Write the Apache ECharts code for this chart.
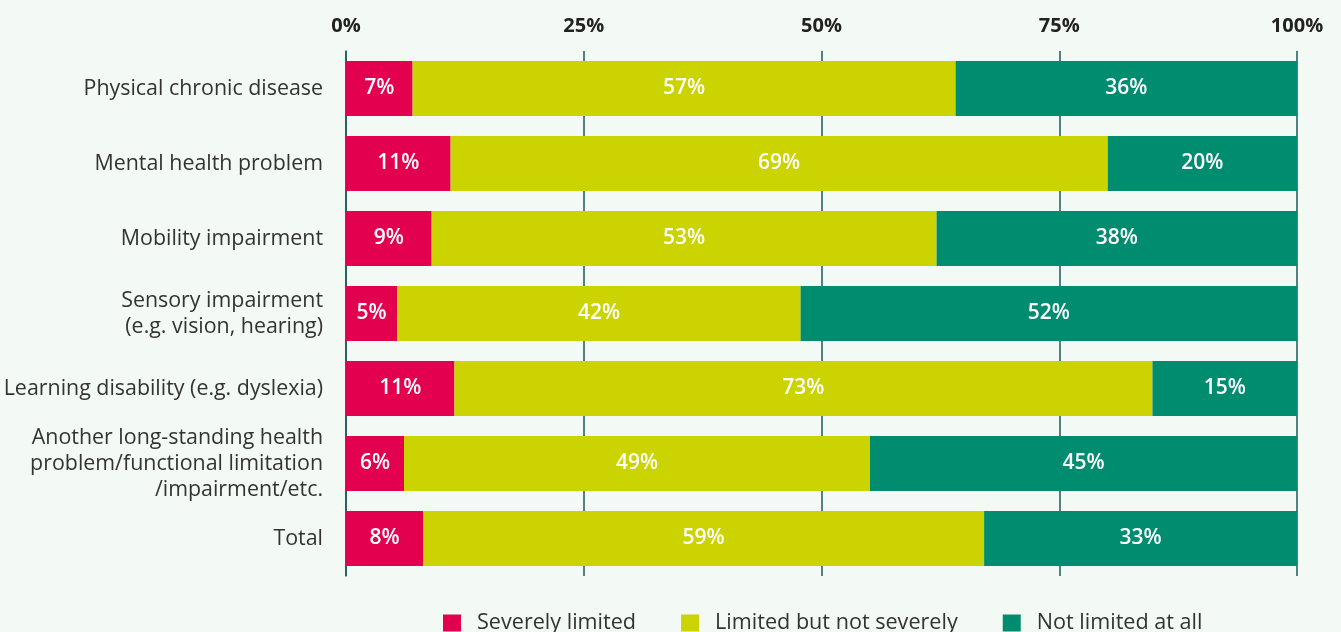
<!DOCTYPE html>
<html>
<head>
<meta charset="utf-8">
<script src="https://cdn.jsdelivr.net/npm/echarts@6/dist/echarts.min.js"></script>
<style>
  html, body { margin: 0; padding: 0; background: #f3f9f5; }
  #chart { width: 1341px; height: 632px; }
</style>
</head>
<body>
<div id="chart"></div>
<script>
// Survey groups (top to bottom)
const categories = [
  'Physical chronic disease',
  'Mental health problem',
  'Mobility impairment',
  'Sensory impairment\n(e.g. vision, hearing)',
  'Learning disability (e.g. dyslexia)',
  'Another long-standing health\nproblem/functional limitation\n/impairment/etc.',
  'Total'
];
// Share of respondents per group, in percent
const severelyLimited = [7.0, 11.0, 9.0, 5.4, 11.4, 6.1, 8.1];
const limitedNotSeverely = [57.1, 69.1, 53.1, 42.4, 73.4, 49.0, 59.0];
const notLimited = [35.9, 19.9, 37.9, 52.2, 15.2, 44.9, 32.9];
const seriesNames = ['Severely limited', 'Limited but not severely', 'Not limited at all'];
const tickValues = [0, 25, 50, 75, 100];

const font = '"Open Sans", "Noto Sans", sans-serif';
const colors = ['#e3004f', '#cbd300', '#008c6f'];

function barSeries(name, values, color) {
  return {
    name: name,
    type: 'bar',
    stack: 'share',
    data: values,
    barCategoryGap: '26.7%',
    itemStyle: { color: color },
    label: {
      show: true,
      position: 'inside',
      color: '#ffffff',
      fontFamily: font,
      fontSize: 21,
      fontWeight: 600,
      formatter: p => Math.round(p.value) + '%'
    }
  };
}

const chart = echarts.init(document.getElementById('chart'), null, { renderer: 'canvas' });
chart.setOption({
  backgroundColor: '#f3f9f5',
  animation: false,
  grid: { left: 346, right: 44, top: 51, bottom: 56 },
  xAxis: {
    type: 'value',
    position: 'top',
    min: tickValues[0],
    max: tickValues[tickValues.length - 1],
    interval: 25,
    axisLine: { show: false },
    axisTick: { show: false },
    splitLine: { show: true, lineStyle: { color: '#1d5a57', width: 1.5 } },
    axisLabel: {
      formatter: '{value}%',
      fontFamily: font,
      fontWeight: 'bold',
      fontSize: 20,
      color: '#222222',
      margin: 15
    }
  },
  yAxis: {
    type: 'category',
    inverse: true,
    data: categories,
    axisLine: { show: true, lineStyle: { color: '#1d5a57', width: 1.5 } },
    axisTick: { show: false },
    axisLabel: {
      fontFamily: font,
      fontSize: 21.4,
      color: '#333333',
      lineHeight: 26,
      margin: 23,
      align: 'right'
    }
  },
  legend: {
    left: 438,
    top: 607,
    itemWidth: 18,
    itemHeight: 17,
    itemGap: 45,
    icon: 'rect',
    data: seriesNames,
    textStyle: {
      fontFamily: font,
      fontSize: 21.6,
      color: '#333333',
      padding: [0, 0, 0, 11]
    }
  },
  series: [
    barSeries(seriesNames[0], severelyLimited, colors[0]),
    barSeries(seriesNames[1], limitedNotSeverely, colors[1]),
    barSeries(seriesNames[2], notLimited, colors[2])
  ]
});
</script>
</body>
</html>
